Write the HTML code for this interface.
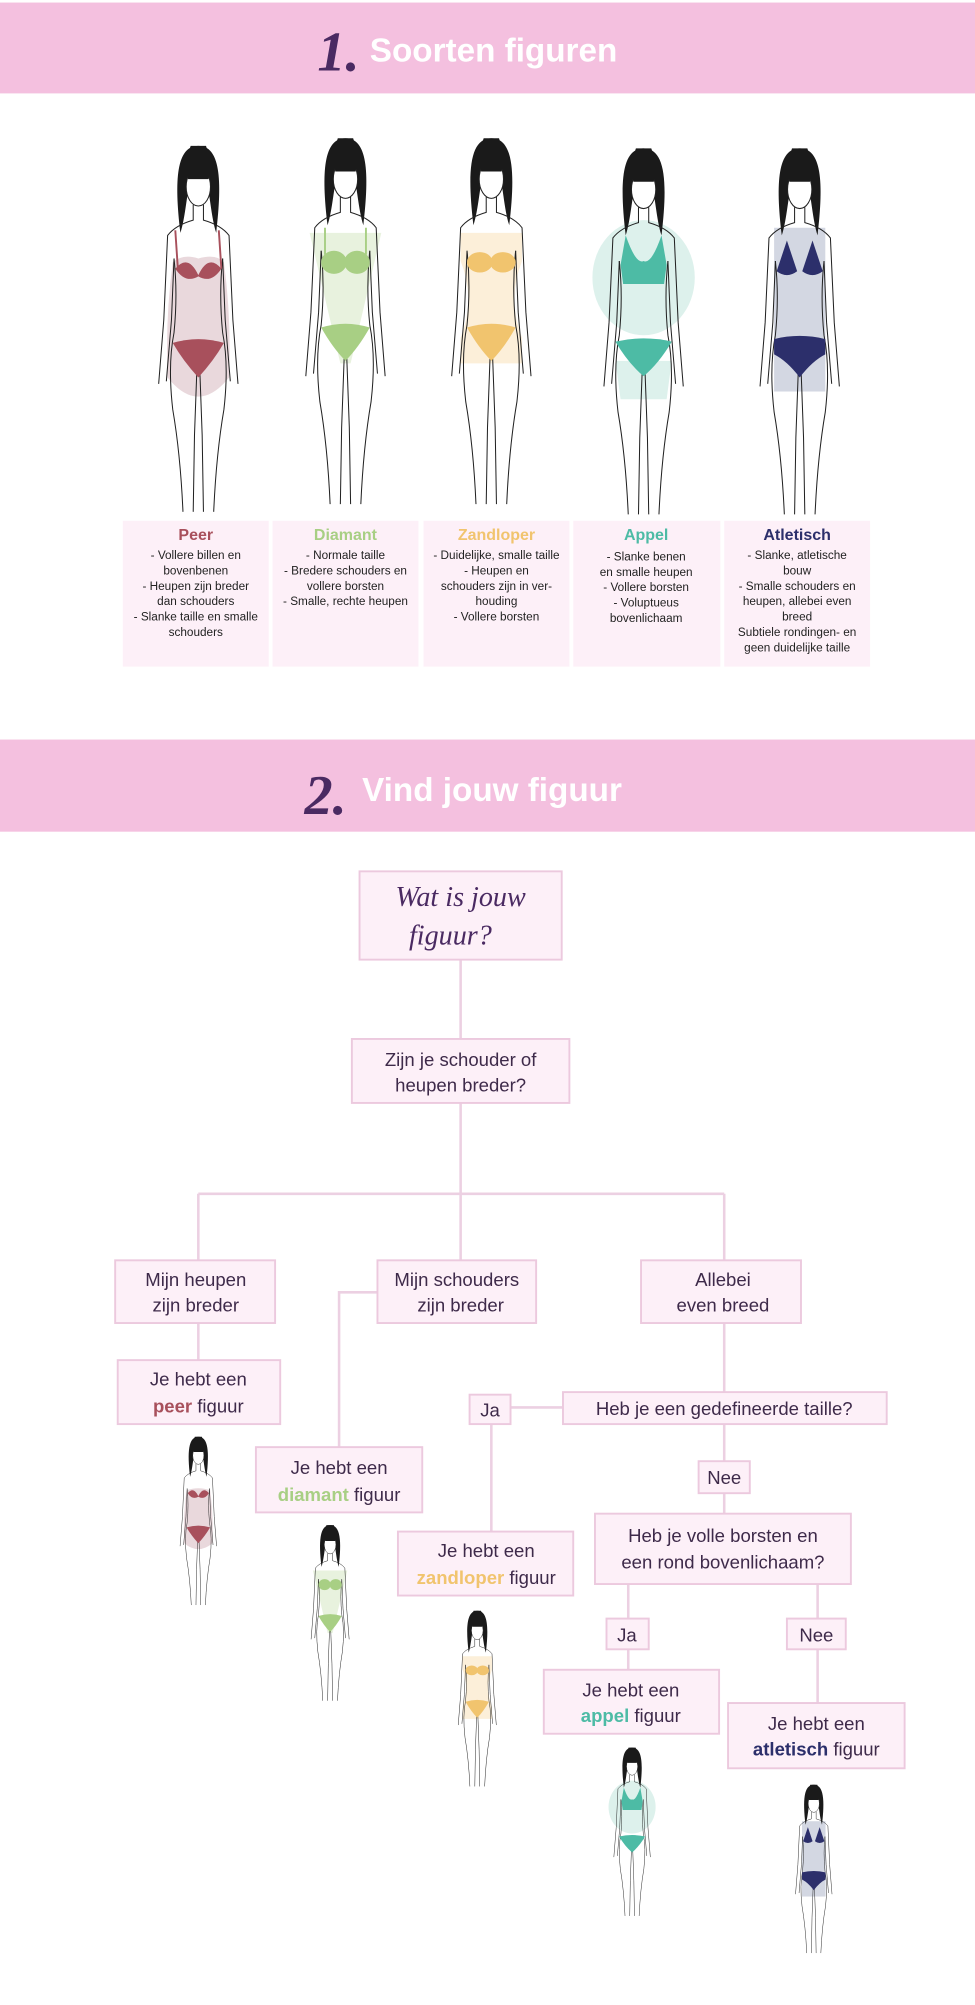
<!DOCTYPE html>
<html><head><meta charset="utf-8"><style>
html,body{margin:0;padding:0;background:#fff}
svg{display:block}
.ft{font-family:"Liberation Sans",sans-serif;font-size:14.5px;fill:#3e2a4a;text-anchor:middle}
.bx{fill:#fdf0f8;stroke:#ecc9de;stroke-width:1.5}
.ln{stroke:#ecd0e2;stroke-width:2;fill:none}
.tt{font-family:"Liberation Sans",sans-serif;font-size:12.5px;font-weight:bold;text-anchor:middle}
.tb{font-family:"Liberation Sans",sans-serif;font-size:9.2px;fill:#222;text-anchor:middle}
.sc{font-family:"Liberation Serif",serif;font-style:italic;fill:#4a2a62}
</style></head><body>
<svg width="975" height="2005" viewBox="0 0 762 1567" xmlns="http://www.w3.org/2000/svg">
<defs>
<g id="fig">
 <path d="M-14,72 C-19,30 -17,4 0,4 C17,4 19,30 14,72 C10,60 9,40 6,30 L-6,30 C-9,40 -10,60 -14,72Z" fill="#1a1a1a"/>
 <ellipse cx="0" cy="36" rx="9.5" ry="15" fill="#fff" stroke="#222" stroke-width="0.8"/>
 <path d="M-6,4 C-9,12 -9,22 -8,30 L8,30 C9,22 9,12 6,4Z" fill="#1a1a1a"/>
 <g fill="none" stroke="#222" stroke-width="0.8">
  <path d="M-4,50 L-4,62 Q-18,66 -24,74 L-27,140 L-31,190"/>
  <path d="M4,50 L4,62 Q18,66 24,74 L27,140 L31,190"/>
  <path d="M-19,92 L-21,140 L-25,188"/>
  <path d="M19,92 L21,140 L25,188"/>
  <path d="M-19,92 Q-16,120 -19,150 Q-24,175 -20,210 Q-14,245 -12,290"/>
  <path d="M19,92 Q16,120 19,150 Q24,175 20,210 Q14,245 12,290"/>
  <path d="M-1,175 L-3,230 L-4,290"/>
  <path d="M1,175 L3,230 L4,290"/>
 </g>
</g>
</defs>

<!-- Header 1 -->
<rect x="0" y="2" width="762" height="71" fill="#f4c0df"/>
<text x="248" y="55" class="sc" font-size="44" font-weight="bold">1.</text>
<text x="289" y="48" font-family="Liberation Sans,sans-serif" font-size="26" font-weight="bold" fill="#fff">Soorten figuren</text>

<!-- Large figures -->
<g transform="translate(155,110)">
 <path d="M-20,95 Q-12,88 0,92 Q14,88 20,95 Q26,140 24,185 Q12,200 0,200 Q-12,200 -24,185 Q-26,140 -20,95Z" fill="#e9d8dc"/>
 <use href="#fig"/>
 <path d="M-18,70 L-16,100 M16,70 L18,100" stroke="#a8505c" stroke-width="1.5"/>
 <path d="M-18,100 Q-8,88 0,105 Q8,88 18,100 Q10,112 0,106 Q-10,112 -18,100Z" fill="#a8505c"/>
 <path d="M-20,158 Q0,152 20,158 Q12,172 0,185 Q-12,172 -20,158Z" fill="#a8505c"/>
</g>
<g transform="translate(270,104)">
 <path d="M-28,78 L28,78 L4,180 L-4,180Z" fill="#e8f2de"/>
 <use href="#fig"/>
 <path d="M-16,74 L-16,95 M16,74 L16,95" stroke="#a8cf84" stroke-width="1.5"/>
 <ellipse cx="-9" cy="101" rx="10" ry="9" fill="#a8cf84"/><ellipse cx="9" cy="101" rx="10" ry="9" fill="#a8cf84"/>
 <path d="M-19,152 Q0,146 19,152 Q10,168 0,178 Q-10,168 -19,152Z" fill="#a8cf84"/>
</g>
<g transform="translate(384,104)">
 <path d="M-24,78 L24,78 L24,100 Q12,130 24,160 L24,180 L-24,180 L-24,160 Q-12,130 -24,100Z" fill="#fcefd9"/>
 <use href="#fig"/>
 <ellipse cx="-9" cy="101" rx="10" ry="8" fill="#f1c46e"/><ellipse cx="9" cy="101" rx="10" ry="8" fill="#f1c46e"/>
 <path d="M-19,152 Q0,146 19,152 Q10,168 0,178 Q-10,168 -19,152Z" fill="#f1c46e"/>
</g>
<g transform="translate(503,112)">
 <ellipse cx="0" cy="105" rx="40" ry="45" fill="#ddf1ec"/>
 <path d="M-22,170 L22,170 L18,200 L-18,200Z" fill="#ddf1ec"/>
 <use href="#fig"/>
 <path d="M-14,72 Q-6,95 0,92 Q6,95 14,72 L18,95 L16,110 L-16,110 L-18,95Z" fill="#4dbba5"/>
 <path d="M-22,155 Q0,150 22,155 Q12,172 0,182 Q-12,172 -22,155Z" fill="#4dbba5"/>
</g>
<g transform="translate(625,112)">
 <rect x="-20" y="66" width="40" height="128" fill="#d3d7e2"/>
 <use href="#fig"/>
 <path d="M-18,100 L-10,76 L-2,100 Q-10,106 -18,100Z M2,100 L10,76 L18,100 Q10,106 2,100Z" fill="#2c2f6b"/>
 <path d="M-20,153 Q0,148 20,153 L20,165 Q10,170 0,183 Q-10,170 -20,165Z" fill="#2c2f6b"/>
</g>

<!-- Description boxes -->
<rect x="96" y="407" width="114" height="114" fill="#fdf0f8"/>
<rect x="213" y="407" width="114" height="114" fill="#fdf0f8"/>
<rect x="331" y="407" width="114" height="114" fill="#fdf0f8"/>
<rect x="448" y="407" width="115" height="114" fill="#fdf0f8"/>
<rect x="566" y="407" width="114" height="114" fill="#fdf0f8"/>
<text x="153" y="422" class="tt" fill="#a8505c">Peer</text>
<text x="270" y="422" class="tt" fill="#a8cf84">Diamant</text>
<text x="388" y="422" class="tt" fill="#f1c46e">Zandloper</text>
<text x="505" y="422" class="tt" fill="#4dbba5">Appel</text>
<text x="623" y="422" class="tt" fill="#2c2f6b">Atletisch</text>
<g class="tb">
<text x="153" y="437">- Vollere billen en</text><text x="153" y="449">bovenbenen</text><text x="153" y="461">- Heupen zijn breder</text><text x="153" y="473">dan schouders</text><text x="153" y="485">- Slanke taille en smalle</text><text x="153" y="497">schouders</text>
<text x="270" y="437">- Normale taille</text><text x="270" y="449">- Bredere schouders en</text><text x="270" y="461">vollere borsten</text><text x="270" y="473">- Smalle, rechte heupen</text>
<text x="388" y="437">- Duidelijke, smalle taille</text><text x="388" y="449">- Heupen en</text><text x="388" y="461">schouders zijn in ver-</text><text x="388" y="473">houding</text><text x="388" y="485">- Vollere borsten</text>
<text x="505" y="438">- Slanke benen</text><text x="505" y="450">en smalle heupen</text><text x="505" y="462">- Vollere borsten</text><text x="505" y="474">- Voluptueus</text><text x="505" y="486">bovenlichaam</text>
<text x="623" y="437">- Slanke, atletische</text><text x="623" y="449">bouw</text><text x="623" y="461">- Smalle schouders en</text><text x="623" y="473">heupen, allebei even</text><text x="623" y="485">breed</text><text x="623" y="497">Subtiele rondingen- en</text><text x="623" y="509">geen duidelijke taille</text>
</g>

<!-- Header 2 -->
<rect x="0" y="578" width="762" height="72" fill="#f4c0df"/>
<text x="238" y="636" class="sc" font-size="44" font-weight="bold">2.</text>
<text x="283" y="626" font-family="Liberation Sans,sans-serif" font-size="26" font-weight="bold" fill="#fff">Vind jouw figuur</text>

<!-- Connectors -->
<g class="ln">
<path d="M360,750 V812 M360,862 V933 M155,933 H566 M155,933 V985 M360,933 V985 M566,933 V985"/>
<path d="M155,1034 V1063"/>
<path d="M295,1010 H265 V1131"/>
<path d="M566,1034 V1088 M440,1100 H399 M384,1113 V1197"/>
<path d="M566,1113 V1142 M566,1167 V1183"/>
<path d="M491,1238 V1265 M491,1289 V1305"/>
<path d="M639,1238 V1265 M639,1289 V1331"/>
</g>

<!-- Boxes -->
<rect class="bx" x="281" y="681" width="158" height="69"/>
<text x="360" y="708" class="sc" font-size="22" text-anchor="middle">Wat is jouw</text>
<text x="352" y="738" class="sc" font-size="22" text-anchor="middle">figuur?</text>

<rect class="bx" x="275" y="812" width="170" height="50"/>
<text x="360" y="833" class="ft">Zijn je schouder of</text><text x="360" y="853" class="ft">heupen breder?</text>

<rect class="bx" x="90" y="985" width="125" height="49"/>
<text x="153" y="1005" class="ft">Mijn heupen</text><text x="153" y="1025" class="ft">zijn breder</text>
<rect class="bx" x="295" y="985" width="124" height="49"/>
<text x="357" y="1005" class="ft">Mijn schouders</text><text x="360" y="1025" class="ft">zijn breder</text>
<rect class="bx" x="501" y="985" width="125" height="49"/>
<text x="565" y="1005" class="ft">Allebei</text><text x="565" y="1025" class="ft">even breed</text>

<rect class="bx" x="92" y="1063" width="127" height="50"/>
<text x="155" y="1083" class="ft">Je hebt een</text><text x="155" y="1104" class="ft"><tspan font-weight="bold" fill="#a8505c">peer</tspan> figuur</text>

<rect class="bx" x="200" y="1131" width="130" height="51"/>
<text x="265" y="1152" class="ft">Je hebt een</text><text x="265" y="1173" class="ft"><tspan font-weight="bold" fill="#a8cf84">diamant</tspan> figuur</text>

<rect class="bx" x="367" y="1090" width="32" height="23"/>
<text x="383" y="1107" class="ft">Ja</text>
<rect class="bx" x="440" y="1088" width="253" height="25"/>
<text x="566" y="1106" class="ft">Heb je een gedefineerde taille?</text>

<rect class="bx" x="311" y="1197" width="137" height="50"/>
<text x="380" y="1217" class="ft">Je hebt een</text><text x="380" y="1238" class="ft"><tspan font-weight="bold" fill="#f1c46e">zandloper</tspan> figuur</text>

<rect class="bx" x="546" y="1142" width="40" height="25"/>
<text x="566" y="1160" class="ft">Nee</text>
<rect class="bx" x="465" y="1183" width="200" height="55"/>
<text x="565" y="1205" class="ft">Heb je volle borsten en</text><text x="565" y="1226" class="ft">een rond bovenlichaam?</text>

<rect class="bx" x="474" y="1265" width="33" height="24"/>
<text x="490" y="1283" class="ft">Ja</text>
<rect class="bx" x="615" y="1265" width="46" height="24"/>
<text x="638" y="1283" class="ft">Nee</text>

<rect class="bx" x="425" y="1305" width="137" height="50"/>
<text x="493" y="1326" class="ft">Je hebt een</text><text x="493" y="1346" class="ft"><tspan font-weight="bold" fill="#4dbba5">appel</tspan> figuur</text>
<rect class="bx" x="569" y="1331" width="138" height="51"/>
<text x="638" y="1352" class="ft">Je hebt een</text><text x="638" y="1372" class="ft"><tspan font-weight="bold" fill="#2c2f6b">atletisch</tspan> figuur</text>

<!-- Small figures -->
<g transform="translate(155,1121) scale(0.46)">
 <path d="M-20,95 Q0,88 20,95 Q26,140 24,185 Q0,205 -24,185 Q-26,140 -20,95Z" fill="#e9d8dc"/>
 <use href="#fig"/>
 <path d="M-18,100 Q-8,88 0,105 Q8,88 18,100 Q10,112 0,106 Q-10,112 -18,100Z" fill="#a8505c"/>
 <path d="M-20,158 Q0,152 20,158 Q12,172 0,185 Q-12,172 -20,158Z" fill="#a8505c"/>
</g>
<g transform="translate(258,1190) scale(0.48)">
 <path d="M-28,78 L28,78 L4,180 L-4,180Z" fill="#e8f2de"/>
 <use href="#fig"/>
 <ellipse cx="-9" cy="101" rx="10" ry="9" fill="#a8cf84"/><ellipse cx="9" cy="101" rx="10" ry="9" fill="#a8cf84"/>
 <path d="M-19,152 Q0,146 19,152 Q10,168 0,178 Q-10,168 -19,152Z" fill="#a8cf84"/>
</g>
<g transform="translate(373,1257) scale(0.48)">
 <path d="M-24,78 L24,78 L24,100 Q12,130 24,160 L24,180 L-24,180 L-24,160 Q-12,130 -24,100Z" fill="#fcefd9"/>
 <use href="#fig"/>
 <ellipse cx="-9" cy="101" rx="10" ry="8" fill="#f1c46e"/><ellipse cx="9" cy="101" rx="10" ry="8" fill="#f1c46e"/>
 <path d="M-19,152 Q0,146 19,152 Q10,168 0,178 Q-10,168 -19,152Z" fill="#f1c46e"/>
</g>
<g transform="translate(494,1364) scale(0.46)">
 <ellipse cx="0" cy="105" rx="40" ry="45" fill="#ddf1ec"/>
 <use href="#fig"/>
 <path d="M-14,72 Q-6,95 0,92 Q6,95 14,72 L18,95 L16,110 L-16,110 L-18,95Z" fill="#4dbba5"/>
 <path d="M-22,155 Q0,150 22,155 Q12,172 0,182 Q-12,172 -22,155Z" fill="#4dbba5"/>
</g>
<g transform="translate(636,1393) scale(0.46)">
 <rect x="-20" y="66" width="40" height="128" fill="#d3d7e2"/>
 <use href="#fig"/>
 <path d="M-18,100 L-10,76 L-2,100 Q-10,106 -18,100Z M2,100 L10,76 L18,100 Q10,106 2,100Z" fill="#2c2f6b"/>
 <path d="M-20,153 Q0,148 20,153 L20,165 Q10,170 0,183 Q-10,170 -20,165Z" fill="#2c2f6b"/>
</g>
</svg>
</body></html>
